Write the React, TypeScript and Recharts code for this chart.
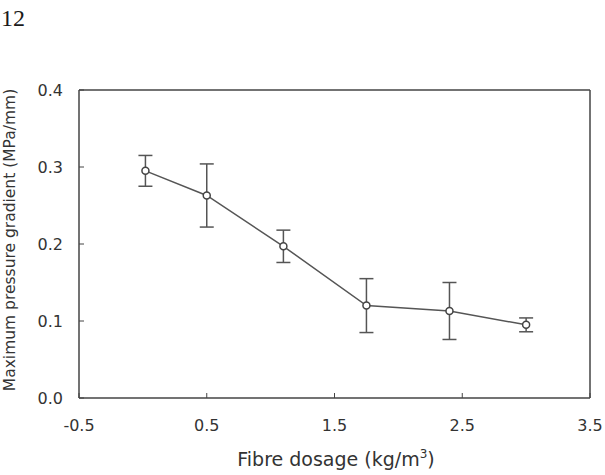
import { ComposedChart, Line, XAxis, YAxis, ErrorBar, ReferenceLine } from "recharts";

const dosage = [0.02, 0.5, 1.1, 1.75, 2.4, 3.0];
const gradient = [0.295, 0.263, 0.197, 0.12, 0.113, 0.095];
const errors = [0.02, 0.041, 0.021, 0.035, 0.037, 0.009];

const xTicks = [-0.5, 0.5, 1.5, 2.5, 3.5];
const yTicks = [0, 0.1, 0.2, 0.3, 0.4];

const data = dosage.map((d, i) => ({ x: d, y: gradient[i], err: errors[i] }));

const FONT = "'DejaVu Sans', Arial, sans-serif";
const INK = "#444";

export default function App() {
  return (
    <div style={{ position: "absolute", left: 0, top: 0, width: 605, height: 475, background: "#fff" }}>
      <div
        style={{
          position: "absolute",
          left: 1,
          top: 6,
          lineHeight: 1,
          fontFamily: "'Liberation Serif', 'Times New Roman', serif",
          fontSize: 24,
          color: "#1a1a1a",
        }}
      >
        12
      </div>
      <ComposedChart
        width={605}
        height={475}
        data={data}
        margin={{ top: 90, right: 15, bottom: 37, left: 29 }}
      >
        <XAxis
          dataKey="x"
          type="number"
          domain={[-0.5, 3.5]}
          ticks={xTicks}
          tickFormatter={(v: number) => v.toFixed(1)}
          height={40}
          tickSize={-5}
          tickMargin={27}
          axisLine={{ stroke: INK, strokeWidth: 1.5 }}
          tickLine={{ stroke: INK }}
          tick={{ fill: "#333", fontSize: 16, fontFamily: FONT }}
          interval={0}
          label={{
            content: () => (
              <text x={336} y={466} textAnchor="middle" fill="#333" fontSize={19} fontFamily={FONT}>
                Fibre dosage (kg/m<tspan dy={-8} fontSize={12}>3</tspan>
                <tspan dy={8}>)</tspan>
              </text>
            ),
          }}
        />
        <YAxis
          type="number"
          domain={[0, 0.4]}
          ticks={yTicks}
          tickFormatter={(v: number) => v.toFixed(1)}
          width={50}
          tickSize={-5}
          tickMargin={21}
          axisLine={{ stroke: INK, strokeWidth: 1.5 }}
          tickLine={{ stroke: INK }}
          tick={{ fill: "#333", fontSize: 16, fontFamily: FONT }}
          interval={0}
          label={{
            content: () => (
              <text
                x={15}
                y={240}
                transform="rotate(-90 15 240)"
                textAnchor="middle"
                fill="#333"
                fontSize={15.5}
                fontFamily={FONT}
              >
                Maximum pressure gradient (MPa/mm)
              </text>
            ),
          }}
        />
        <ReferenceLine y={0.4} stroke={INK} strokeWidth={1.5} />
        <ReferenceLine x={3.5} stroke={INK} strokeWidth={1.5} />
        <Line
          dataKey="y"
          type="linear"
          stroke="#555"
          strokeWidth={1.5}
          isAnimationActive={false}
          dot={{ r: 3.5, fill: "#fff", stroke: INK, strokeWidth: 1.5 }}
        >
          <ErrorBar dataKey="err" width={7} stroke="#555" strokeWidth={1.5} direction="y" />
        </Line>
      </ComposedChart>
    </div>
  );
}
